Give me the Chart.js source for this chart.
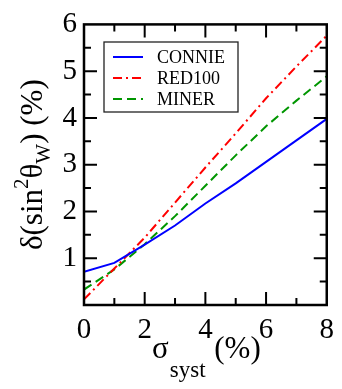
<!DOCTYPE html>
<html>
<head>
<meta charset="utf-8">
<script src="https://cdn.jsdelivr.net/npm/chart.js@4.4.0/dist/chart.umd.min.js"></script>
<style>
  html, body { margin: 0; padding: 0; background: #fff; }
</style>
</head>
<body>
<canvas id="canvas" width="342" height="389"></canvas>
<script>
// sigma_syst (%) on x, delta(sin^2 theta_W) (%) on y
var sigmaSyst = [0, 1, 2, 3, 4, 5, 6, 7, 8];
var connie = [0.71, 0.90, 1.29, 1.70, 2.17, 2.60, 3.06, 3.52, 3.98];
var red100 = [0.12, 0.78, 1.44, 2.19, 2.94, 3.67, 4.42, 5.10, 5.76];
var miner  = [0.33, 0.76, 1.30, 1.90, 2.55, 3.20, 3.82, 4.37, 4.89];
var xTicks = [0, 2, 4, 6, 8];
var yTicks = [1, 2, 3, 4, 5, 6];

var serif = "'Liberation Serif', 'DejaVu Serif', serif";

function points(ys) {
  return ys.map(function(y, i) { return {x: sigmaSyst[i], y: y}; });
}

var colors = {
  blue: 'rgb(0, 0, 255)',
  red: 'rgb(255, 0, 0)',
  green: 'rgb(0, 150, 0)'
};

var datasets = [
  {label: 'CONNIE', data: points(connie), borderColor: colors.blue, borderWidth: 2, borderDash: []},
  {label: 'RED100', data: points(red100), borderColor: colors.red, borderWidth: 2, borderDash: [9, 4, 2, 4]},
  {label: 'MINER', data: points(miner), borderColor: colors.green, borderWidth: 2, borderDash: [9, 5]}
];
datasets.forEach(function(d) {
  d.pointRadius = 0;
  d.fill = false;
  d.tension = 0;
});

// frame, inward ticks on all sides, legend and axis titles
var decorations = {
  id: 'decorations',
  afterDatasetsDraw: function(chart) {
    var ctx = chart.ctx;
    var a = chart.chartArea;
    var xs = chart.scales.x, ys = chart.scales.y;
    ctx.save();
    ctx.strokeStyle = '#000';
    ctx.lineWidth = 2.5;
    ctx.strokeRect(a.left, a.top, a.right - a.left, a.bottom - a.top);

    ctx.lineWidth = 2;
    ctx.beginPath();
    for (var v = 1; v < 8; v++) {
      var px = xs.getPixelForValue(v);
      var len = (v % 2 == 0) ? 13 : 7;
      ctx.moveTo(px, a.bottom); ctx.lineTo(px, a.bottom - len);
      ctx.moveTo(px, a.top); ctx.lineTo(px, a.top + len);
    }
    for (var w = 0.5; w < 6; w += 0.5) {
      var py = ys.getPixelForValue(w);
      var l2 = (w % 1 == 0) ? 13 : 7;
      ctx.moveTo(a.left, py); ctx.lineTo(a.left + l2, py);
      ctx.moveTo(a.right, py); ctx.lineTo(a.right - l2, py);
    }
    ctx.stroke();

    // legend box
    ctx.fillStyle = '#fff';
    ctx.fillRect(104, 42, 134, 70);
    ctx.lineWidth = 1.3;
    ctx.strokeStyle = '#222';
    ctx.strokeRect(104, 42, 134, 70);
    var rows = [57, 78, 99];
    chart.data.datasets.forEach(function(d, i) {
      ctx.strokeStyle = d.borderColor;
      ctx.lineWidth = 2;
      ctx.setLineDash(d.borderDash);
      ctx.beginPath();
      ctx.moveTo(113, rows[i]);
      ctx.lineTo(143, rows[i]);
      ctx.stroke();
      ctx.setLineDash([]);
      ctx.fillStyle = '#000';
      ctx.font = '18px ' + serif;
      ctx.textBaseline = 'middle';
      ctx.textAlign = 'left';
      ctx.fillText(d.label, 157, rows[i] + 1);
    });

    // x title: sigma_syst (%)
    ctx.fillStyle = '#000';
    ctx.textBaseline = 'alphabetic';
    var big = '31px ' + serif, small = '23px ' + serif;
    ctx.font = big; var w1 = ctx.measureText('\u03c3').width;
    ctx.font = small; var w2 = ctx.measureText('syst').width;
    ctx.font = big; var w3 = ctx.measureText(' (%)').width;
    var cx = (a.left + a.right) / 2;
    var x0 = cx - (w1 + w2 + w3) / 2;
    ctx.font = big; ctx.fillText('\u03c3', x0, 358);
    ctx.font = small; ctx.fillText('syst', x0 + w1 + 1, 377);
    ctx.font = big; ctx.fillText(' (%)', x0 + w1 + w2 + 2, 358);

    // y title: delta(sin^2 theta_W) (%)
    ctx.translate(42, (a.top + a.bottom) / 2);
    ctx.rotate(-Math.PI / 2);
    var parts = [
      {t: '\u03b4(sin', f: '31px ' + serif, dy: 0},
      {t: '2', f: '21px ' + serif, dy: -14},
      {t: '\u03b8', f: '31px ' + serif, dy: 0},
      {t: 'W', f: '21px ' + serif, dy: 8},
      {t: ') (%)', f: '31px ' + serif, dy: 0}
    ];
    var total = 0;
    parts.forEach(function(p) { ctx.font = p.f; p.w = ctx.measureText(p.t).width; total += p.w; });
    var xx = -total / 2;
    parts.forEach(function(p) {
      ctx.font = p.f;
      ctx.fillText(p.t, xx, p.dy);
      xx += p.w;
    });
    ctx.restore();
  }
};

var chart = new Chart(document.getElementById('canvas').getContext('2d'), {
  type: 'line',
  data: {datasets: datasets},
  plugins: [decorations],
  options: {
    responsive: false,
    animation: false,
    devicePixelRatio: 1,
    layout: {padding: {top: 18, right: 11, left: 0, bottom: 0}},
    plugins: {legend: {display: false}, tooltip: {enabled: false}},
    scales: {
      x: {
        type: 'linear',
        min: 0, max: 8,
        afterFit: function(s) { s.height = 84; },
        afterBuildTicks: function(s) { s.ticks = xTicks.map(function(v) { return {value: v}; }); },
        grid: {display: false, drawTicks: false},
        border: {display: false},
        ticks: {color: '#000', font: {family: serif, size: 29}, padding: 8, autoSkip: false, maxRotation: 0}
      },
      y: {
        type: 'linear',
        min: 0, max: 6,
        afterFit: function(s) { s.width = 84; },
        afterBuildTicks: function(s) { s.ticks = yTicks.map(function(v) { return {value: v}; }); },
        grid: {display: false, drawTicks: false},
        border: {display: false},
        ticks: {color: '#000', font: {family: serif, size: 29}, padding: 7}
      }
    }
  }
});
</script>
</body>
</html>
